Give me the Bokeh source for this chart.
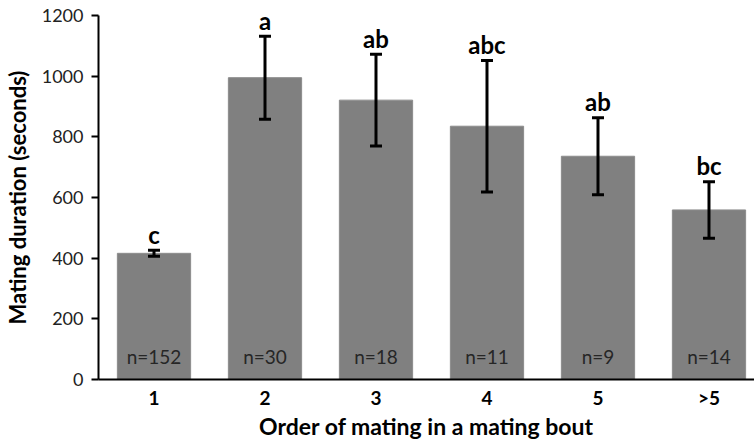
from bokeh.plotting import figure
from bokeh.models import ColumnDataSource, Range1d, FixedTicker, Whisker, TeeHead
from bokeh.core.properties import value
from bokeh.embed import file_html
from bokeh.resources import INLINE

categories = ["1", "2", "3", "4", "5", ">5"]
means = [416, 995, 921, 835, 736, 559]
errors = [10, 137, 151, 217, 127, 93]
letters = ["c", "a", "ab", "abc", "ab", "bc"]
n_labels = ["n=152", "n=30", "n=18", "n=11", "n=9", "n=14"]
y_ticks = [0, 200, 400, 600, 800, 1000, 1200]

xs = [i + 0.5 for i in range(len(categories))]
src = ColumnDataSource(dict(
    x=xs, top=means,
    upper=[m + e for m, e in zip(means, errors)],
    lower=[m - e for m, e in zip(means, errors)],
    letters=letters, n=n_labels, zero=[0] * len(categories),
))

FONT = "Lato"

p = figure(width=754, height=442, output_backend="svg", toolbar_location=None,
           x_range=Range1d(0, 5.91), y_range=Range1d(0, 1200),
           min_border_left=98, min_border_right=0, min_border_top=15, min_border_bottom=63)
p.outline_line_color = None
p.xgrid.visible = False
p.ygrid.visible = False
p.background_fill_color = "white"

p.vbar(x="x", top="top", bottom=0, width=0.66, source=src,
       fill_color="#808080", line_color="#8c8c8c", line_width=1)

w = Whisker(base="x", upper="upper", lower="lower", source=src, level="overlay",
            line_color="black", line_width=3,
            upper_head=TeeHead(size=12, line_width=3, line_color="black"),
            lower_head=TeeHead(size=12, line_width=3, line_color="black"))
p.add_layout(w)

p.text(x="x", y="upper", text="letters", source=src, text_align="center",
       text_baseline="alphabetic", y_offset=-16, text_font=value(FONT),
       text_font_style="bold", text_font_size="24px", text_color="black")

p.text(x="x", y="zero", text="n", source=src, text_align="center",
       text_baseline="middle", y_offset=-23, text_font=value(FONT),
       text_font_size="19px", text_color="#262626")

# axes
p.xaxis.ticker = FixedTicker(ticks=xs)
p.xaxis.major_label_overrides = {x: c for x, c in zip(xs, categories)}
p.xaxis.major_tick_line_color = None
p.xaxis.major_tick_out = 0
p.xaxis.major_tick_in = 0
p.xaxis.minor_tick_line_color = None
p.xaxis.axis_line_color = "black"
p.xaxis.axis_line_width = 2
p.xaxis.major_label_text_font = FONT
p.xaxis.major_label_text_font_style = "bold"
p.xaxis.major_label_text_font_size = "19px"
p.xaxis.major_label_text_color = "black"
p.xaxis.major_label_text_line_height = 1.0
p.xaxis.major_label_standoff = 6
p.xaxis.axis_label = "Order of mating in a mating bout"
p.xaxis.axis_label_text_font = FONT
p.xaxis.axis_label_text_font_style = "bold"
p.xaxis.axis_label_text_font_size = "23px"
p.xaxis.axis_label_text_color = "black"
p.xaxis.axis_label_text_line_height = 1.0
p.xaxis.axis_label_standoff = 0

p.yaxis.ticker = FixedTicker(ticks=y_ticks)
p.yaxis.minor_tick_line_color = None
p.yaxis.major_tick_in = 0
p.yaxis.major_tick_out = 7
p.yaxis.major_tick_line_width = 2
p.yaxis.major_tick_line_color = "black"
p.yaxis.axis_line_color = "black"
p.yaxis.axis_line_width = 2
p.yaxis.major_label_text_font = FONT
p.yaxis.major_label_text_font_size = "18px"
p.yaxis.major_label_text_color = "#222222"
p.yaxis.major_label_standoff = 8
p.yaxis.axis_label = "Mating duration (seconds)"
p.yaxis.axis_label_text_font = FONT
p.yaxis.axis_label_text_font_style = "bold"
p.yaxis.axis_label_text_font_size = "22px"
p.yaxis.axis_label_text_color = "black"
p.yaxis.axis_label_standoff = 8

open("out.html", "w").write(file_html(p, INLINE))
